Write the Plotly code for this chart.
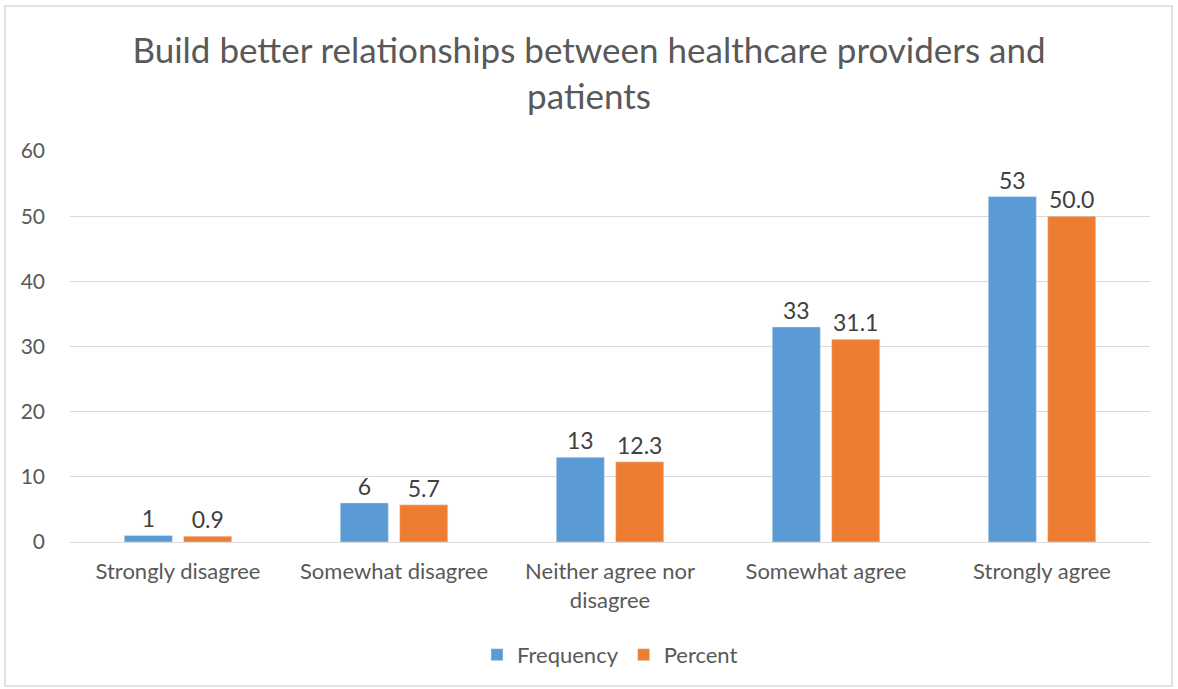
import plotly.graph_objects as go

categories = ["Strongly disagree", "Somewhat disagree", "Neither agree nor<br>disagree",
              "Somewhat agree", "Strongly agree"]
frequency = [1, 6, 13, 33, 53]
percent = [0.9, 5.7, 12.3, 31.1, 50.0]

font_family = "Lato, 'Open Sans', sans-serif"
grey = "#595959"

fig = go.Figure()
fig.add_trace(go.Bar(
    x=categories, y=frequency, name="Frequency",
    marker=dict(color="#5B9BD5"),
    text=[str(v) for v in frequency], textposition="outside",
    textfont=dict(size=23, color="#404040"), cliponaxis=False,
))
fig.add_trace(go.Bar(
    x=categories, y=percent, name="Percent",
    marker=dict(color="#ED7D31"),
    text=[f"{v:.1f}" for v in percent], textposition="outside",
    textfont=dict(size=23, color="#404040"), cliponaxis=False,
))

fig.update_layout(
    width=1178, height=689,
    paper_bgcolor="white", plot_bgcolor="white",
    font=dict(family=font_family, color=grey, size=22),
    title=dict(
        text="Build better relationships between healthcare providers and<br>patients",
        x=0.5, xanchor="center", y=0.908, yanchor="top",
        font=dict(size=35, color=grey),
    ),
    margin=dict(l=70, r=28, t=151, b=147),
    barmode="group", bargap=0.45, bargroupgap=0.19,
    legend=dict(orientation="h", x=0.5, xanchor="center", y=-0.235, yanchor="top",
                font=dict(size=22, color=grey)),
    xaxis=dict(showline=True, linecolor="#D9D9D9", linewidth=1, ticks="",
               tickfont=dict(size=22, color=grey), ticklabelstandoff=10),
    yaxis=dict(range=[0, 60], dtick=10, showgrid=True, gridcolor="#D9D9D9",
               zeroline=False, ticks="", tickfont=dict(size=21, color=grey),
               ticklabelstandoff=24),
    shapes=[dict(type="rect", xref="paper", yref="paper",
                 x0=-0.0602, x1=1.0204, y0=-0.368, y1=1.371,
                 line=dict(color="#D9D9D9", width=1.5))],
)

fig.write_html("out.html", config={"displayModeBar": False},
               post_script="document.body.style.margin='0';")
